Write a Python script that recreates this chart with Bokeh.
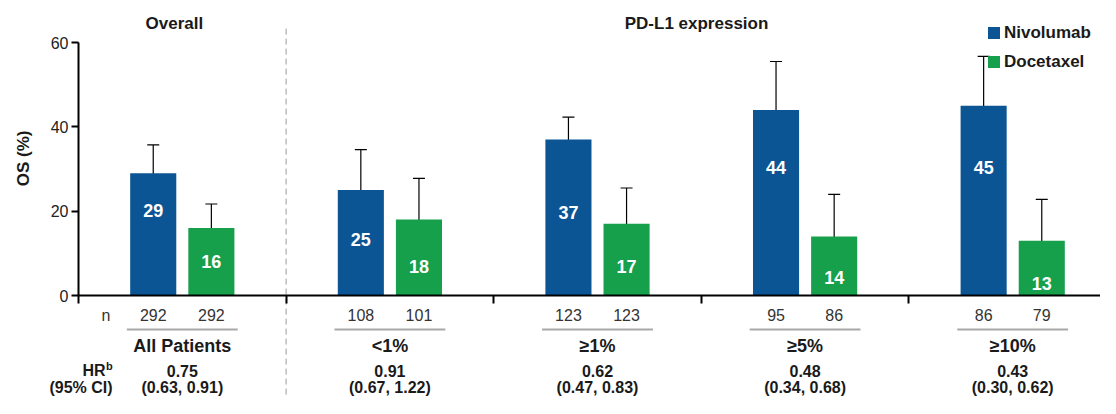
import math
from bokeh.plotting import figure
from bokeh.models import (ColumnDataSource, Whisker, TeeHead, FixedTicker, Legend,
                          LegendItem, Range1d, CustomJSTickFormatter)
from bokeh.core.properties import value
from bokeh.embed import file_html
from bokeh.resources import INLINE

# ---------------- data ----------------
groups = ["All Patients", "<1%", "≥1%", "≥5%", "≥10%"]
series = ["Nivolumab", "Docetaxel"]
niv_os = [29, 25, 37, 44, 45]
niv_lo = [25.8, 19.0, 25.3, 36.0, 36.0]
niv_hi = [35.7, 34.6, 42.3, 55.5, 56.7]
doc_os = [16, 18, 17, 14, 13]
doc_lo = [13.8, 12.6, 12.6, 10.0, 8.5]
doc_hi = [21.7, 27.8, 25.5, 24.0, 22.8]
niv_n = [292, 108, 123, 95, 86]
doc_n = [292, 101, 123, 86, 79]
hr = ["0.75", "0.91", "0.62", "0.48", "0.43"]
hr_ci = ["(0.63, 0.91)", "(0.67, 1.22)", "(0.47, 0.83)", "(0.34, 0.68)", "(0.30, 0.62)"]
y_ticks = [0, 20, 40, 60]
section_titles = ["Overall", "PD-L1 expression"]
y_label = "OS (%)"

# ---------------- layout / style ----------------
W, H = 1100, 398
FONT = value("Liberation Sans")
BLUE = "#0C5595"
GREEN = "#16A04B"
TXT = "#1A1A1A"
OFF = 0.14
BW = 0.222
PXU = 207.6          # px per group
X0 = 78              # px of y axis
YPX = 253 / 60       # px per % unit
Y0 = 295             # px of zero line

ng = len(groups)
gc = [i + 0.5 for i in range(ng)]
niv_x = [c - OFF for c in gc]
doc_x = [c + OFF for c in gc]

x_lo = -X0 / PXU
x_hi = (W - X0) / PXU
y_hi = Y0 / YPX
y_lo = -(H - Y0) / YPX


def ypx(px):
    """vertical position below the zero line, in data units"""
    return -(px - Y0) / YPX


p = figure(width=W, height=H, output_backend="svg", toolbar_location=None,
           x_range=Range1d(x_lo, x_hi), y_range=Range1d(y_lo, y_hi),
           min_border=0, outline_line_color=None)
p.xgrid.visible = False
p.ygrid.visible = False
p.background_fill_color = "white"

# axes
p.yaxis.fixed_location = 0
p.yaxis.bounds = (0, 60)
p.yaxis.ticker = FixedTicker(ticks=y_ticks)
p.yaxis.major_tick_out = 7
p.yaxis.major_tick_in = 0
p.yaxis.minor_tick_out = 0
p.yaxis.minor_tick_in = 0
p.yaxis.axis_line_width = 2
p.yaxis.major_tick_line_width = 2
p.yaxis.major_label_standoff = 3
p.yaxis.major_label_text_font = "Liberation Sans"
p.yaxis.major_label_text_font_size = "16px"
p.yaxis.major_label_text_color = "#222222"

p.xaxis.fixed_location = 0
p.xaxis.bounds = (0, ng)
p.xaxis.ticker = FixedTicker(ticks=list(range(ng + 1)))
p.xaxis.formatter = CustomJSTickFormatter(code="return ''")
p.xaxis.major_tick_out = 8
p.xaxis.major_tick_in = 0
p.xaxis.minor_tick_out = 0
p.xaxis.minor_tick_in = 0
p.xaxis.axis_line_width = 2
p.xaxis.major_tick_line_width = 2

# dashed separator
p.segment(x0=[1], x1=[1], y0=[63.3], y1=[y_lo], line_color="#9A9A9A",
          line_width=1, line_dash="6 4")

# bars
src_n = ColumnDataSource(dict(x=niv_x, top=niv_os, lo=niv_lo, hi=niv_hi,
                              lab=[str(v) for v in niv_os], n=[str(v) for v in niv_n]))
src_d = ColumnDataSource(dict(x=doc_x, top=doc_os, lo=doc_lo, hi=doc_hi,
                              lab=[str(v) for v in doc_os], n=[str(v) for v in doc_n]))
r_n = p.vbar(x="x", top="top", bottom=0, width=BW, source=src_n,
             fill_color=BLUE, line_color=None)
r_d = p.vbar(x="x", top="top", bottom=0, width=BW, source=src_d,
             fill_color=GREEN, line_color=None)

for src in (src_n, src_d):
    w = Whisker(base="x", upper="hi", lower="lo", source=src, line_color="black",
                line_width=1.2,
                upper_head=TeeHead(size=12, line_color="black", line_width=1.2),
                lower_head=TeeHead(size=12, line_color="black", line_width=1.2))
    p.add_layout(w)
    # value labels inside bars
    p.text(x="x", y="lo", text="lab", source=src, y_offset=24, text_align="center",
           text_baseline="middle", text_color="white", text_font=FONT,
           text_font_style="bold", text_font_size="18px")
    # n labels
    p.text(x="x", y=ypx(314.5), text="n", source=src, text_align="center",
           text_baseline="middle", text_color="#333333", text_font=FONT,
           text_font_size="16px")

# underlines below n
p.segment(x0=[c - 0.267 for c in gc], x1=[c + 0.267 for c in gc],
          y0=ypx(329), y1=ypx(329), line_color="#A8A8A8", line_width=2)

# group labels, HR and CI
p.text(x=gc, y=[ypx(345)] * ng, text=groups, text_align="center", text_baseline="middle",
       text_color=TXT, text_font=FONT, text_font_style="bold", text_font_size="18px")
p.text(x=gc, y=[ypx(370)] * ng, text=hr, text_align="center", text_baseline="middle",
       text_color=TXT, text_font=FONT, text_font_style="bold", text_font_size="16px")
p.text(x=gc, y=[ypx(387)] * ng, text=hr_ci, text_align="center", text_baseline="middle",
       text_color=TXT, text_font=FONT, text_font_style="bold", text_font_size="16px")

# row headers at left
p.text(x=[0.154], y=[ypx(314.5)], text=["n"], text_align="right", text_baseline="middle",
       text_color="#333333", text_font=FONT, text_font_size="16px")
p.text(x=[0.13], y=[ypx(370)], text=["HR"], text_align="right", text_baseline="middle",
       text_color=TXT, text_font=FONT, text_font_style="bold", text_font_size="16px")
p.text(x=[0.133], y=[ypx(365)], text=["b"], text_align="left", text_baseline="middle",
       text_color=TXT, text_font=FONT, text_font_style="bold", text_font_size="11px")
p.text(x=[0.164], y=[ypx(387)], text=["(95% CI)"], text_align="right", text_baseline="middle",
       text_color=TXT, text_font=FONT, text_font_style="bold", text_font_size="16px")

# section titles
p.text(x=[0.462, 2.977], y=[64.4, 64.6], text=section_titles, text_align="center",
       text_baseline="middle", text_color=TXT, text_font=FONT, text_font_style="bold",
       text_font_size="17px")

# y label
p.text(x=[-0.267], y=[32.5], text=[y_label], angle=math.pi / 2, text_align="center",
       text_baseline="middle", text_color=TXT, text_font=FONT, text_font_style="bold",
       text_font_size="17px")

legend = Legend(items=[LegendItem(label=series[0], renderers=[r_n]),
                       LegendItem(label=series[1], renderers=[r_d])],
                location=(986, 326), orientation="vertical", glyph_width=15,
                glyph_height=15, label_text_font="Liberation Sans",
                label_text_font_style="bold", label_text_font_size="17px",
                label_text_color=TXT, label_standoff=3, spacing=8, padding=0, margin=0,
                border_line_color=None, background_fill_alpha=0, label_height=21)
p.add_layout(legend)

open("out.html", "w").write(file_html(p, INLINE))
